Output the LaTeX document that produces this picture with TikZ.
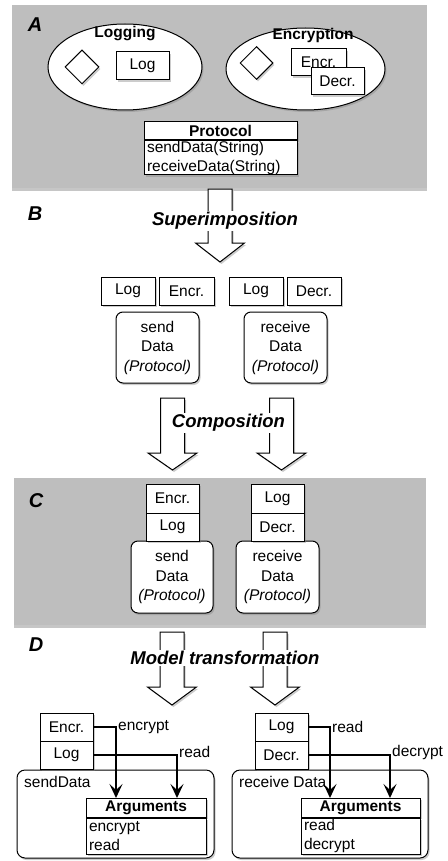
\documentclass[tikz,border=0pt]{standalone}
\usepackage{fontspec}
\setmainfont{Liberation Sans}
\setsansfont{Liberation Sans}
\usetikzlibrary{shapes.geometric,shadows,arrows.meta,calc}
\definecolor{panelgray}{RGB}{190,190,190}
\newcommand\harrow[4]{%
  \path[hollow] (#1-12,#2) -- (#1+12,#2) -- (#1+12,#3) -- (#1+24.5,#3) -- (#1,#4)
     -- (#1-24.5,#3) -- (#1-12,#3) -- cycle;}
\begin{document}
\begin{tikzpicture}[x=1pt,y=-1pt,
  every node/.style={font=\fontsize{15.5}{19.5}\selectfont},
  shad/.style={drop shadow={opacity=0.4,shadow xshift=1.5pt,shadow yshift=-2pt}},
  panel/.style={fill=panelgray, drop shadow={opacity=0.45,shadow xshift=0pt,shadow yshift=-3pt}},
  box/.style={draw, fill=white, line width=1pt, inner sep=0pt, shad},
  rbox/.style={box, rounded corners=7pt, align=center},
  hdr/.style={box, font=\fontsize{15.5}{19.5}\selectfont\bfseries},
  body/.style={box, anchor=north, align=left},
  lbl/.style={font=\fontsize{18.5}{22}\selectfont\bfseries\itshape, fill=white, inner sep=1pt},
  panlbl/.style={font=\fontsize{20}{24}\selectfont\bfseries\itshape},
  conn/.style={line width=2pt, -{Stealth[length=14pt,width=13pt,inset=6pt]}},
  hollow/.style={draw, fill=white, line width=1pt, shad},
  conlbl/.style={anchor=west, inner sep=1pt}
]
\useasboundingbox (0,0) rectangle (447,861);

% ---------- panels ----------
\path[panel] (12,5) rectangle (427,188);
\path[panel] (14,478) rectangle (426,625);

% ---------- A ----------
\node[panlbl] (labA) at (35,25) {A};
\node[ellipse, box, minimum width=154pt, minimum height=86pt] (logging) at (125,67) {};
\node (loggingT) at (125,34) {\bfseries Logging};
\node[diamond, box, minimum width=34pt, minimum height=34pt] (diaL) at (82,67) {};
\node[box, minimum width=53pt, minimum height=28pt] (logA) at (142.5,66) {Log};

\node[ellipse, box, minimum width=159pt, minimum height=82pt] (encryption) at (305.5,69) {};
\node (encT) at (313,35) {\bfseries Encryption};
\node[diamond, box, minimum width=33pt, minimum height=33pt] (diaE) at (256.5,63) {};
\node[box, minimum width=55pt, minimum height=27pt] (encrA) at (318.5,62.5) {Encr.};
\node[box, minimum width=53pt, minimum height=27pt] (decrA) at (337.5,81.5) {Decr.};

\node[hdr, minimum width=153pt, minimum height=18pt] (protoH) at (220.5,131) {Protocol};
\node[body, minimum width=153pt, minimum height=34pt, text width=147pt] (protoB) at (protoH.south)
  {sendData(String)\\receiveData(String)};

% ---------- B ----------
\harrow{220}{189}{243}{262}
\node[panlbl] (labB) at (35,214) {B};
\node[lbl] (superT) at (225,221) {Superimposition};

\node[box, minimum width=54pt, minimum height=28pt] (logB1) at (128,291) {Log};
\node[box, minimum width=55pt, minimum height=28pt] (encrB) at (186.5,291) {Encr.};
\node[box, minimum width=54pt, minimum height=28pt] (logB2) at (256,291) {Log};
\node[box, minimum width=54pt, minimum height=28pt] (decrB) at (314,291) {Decr.};
\node[rbox, minimum width=83pt, minimum height=71pt] (sendB) at (157.5,347.5)
  {send\\Data\\\textit{(Protocol)}};
\node[rbox, minimum width=83pt, minimum height=71pt] (recvB) at (285.5,347.5)
  {receive\\Data\\\textit{(Protocol)}};

% ---------- composition ----------
\harrow{172.5}{398}{453}{470}
\harrow{281.5}{398}{453}{470}
\node[lbl] (compT) at (228.5,423) {Composition};

% ---------- C ----------
\node[panlbl] (labC) at (36,501) {C};
\node[rbox, minimum width=82pt, minimum height=72pt] (sendC) at (172,577)
  {send\\Data\\\textit{(Protocol)}};
\node[box, minimum width=53pt, minimum height=29pt] (encrC) at (172.5,498.5) {Encr.};
\node[box, minimum width=53pt, minimum height=28pt] (logC) at (172.5,527) {Log};
\node[rbox, minimum width=83pt, minimum height=72pt] (recvC) at (277.5,577)
  {receive\\Data\\\textit{(Protocol)}};
\node[box, minimum width=53pt, minimum height=29pt] (logC2) at (277.5,498.5) {Log};
\node[box, minimum width=53pt, minimum height=28pt] (decrC) at (277.5,527) {Decr.};

% ---------- model transformation ----------
\harrow{172}{632}{687}{705}
\harrow{275}{632}{687}{705}
\node[panlbl] (labD) at (36,645) {D};
\node[lbl] (modelT) at (225,658) {Model transformation};

% ---------- D left ----------
\node[box, rounded corners=8pt, minimum width=197pt, minimum height=88pt] (outerL) at (115.5,814) {};
\node[anchor=west, inner sep=1pt] (sendDataT) at (23,782) {sendData};
\node[box, minimum width=53pt, minimum height=28pt] (encrD) at (66.5,727) {Encr.};
\node[box, minimum width=53pt, minimum height=28pt] (logDd) at (66.5,755) {Log};
\node[hdr, minimum width=120pt, minimum height=19pt] (argsLH) at (146,807.5) {Arguments};
\node[body, minimum width=120pt, minimum height=36pt, text width=114pt] (argsLB) at (argsLH.south)
  {encrypt\\read};

% ---------- D right ----------
\node[box, rounded corners=8pt, minimum width=196pt, minimum height=88pt] (outerR) at (330,814) {};
\node[anchor=west, inner sep=1pt] (recvDataT) at (238,782) {receive Data};
\node[box, minimum width=53pt, minimum height=28pt] (logD2) at (281.5,727) {Log};
\node[box, minimum width=53pt, minimum height=28pt] (decrD) at (281.5,755) {Decr.};
\node[hdr, minimum width=119pt, minimum height=19pt] (argsRH) at (360.5,807.5) {Arguments};
\node[body, minimum width=119pt, minimum height=36pt, text width=113pt] (argsRB) at (argsRH.south)
  {read\\decrypt};

% ---------- connectors ----------
\coordinate (t1) at (116,798);
\coordinate (t2) at (177,798);
\coordinate (t3) at (330,798);
\coordinate (t4) at (390,798);
\draw[conn] (encrD.east) -| (t1);
\draw[conn] (logDd.east) -| (t2);
\draw[conn] (logD2.east) -| (t3);
\draw[conn] (decrD.east) -| (t4);
\node[conlbl] (l1) at (117,727) {encrypt};
\node[conlbl] (l2) at (178,752) {read};
\node[conlbl] (l3) at (331,727) {read};
\node[conlbl] (l4) at (391,752) {decrypt};
\end{tikzpicture}
\end{document}
